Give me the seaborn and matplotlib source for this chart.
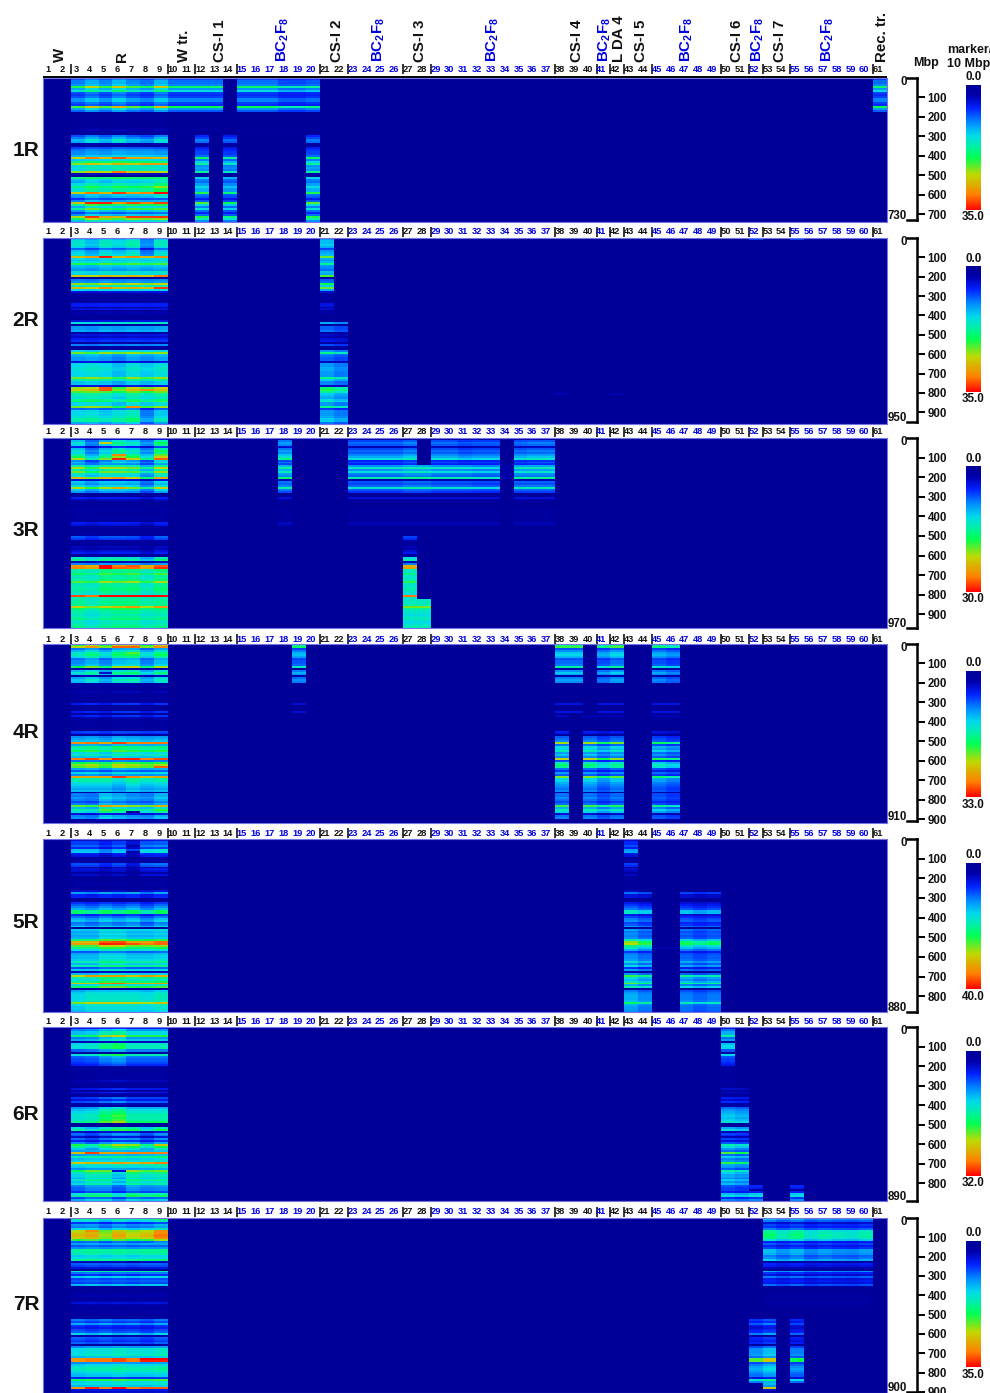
import numpy as np
import pandas as pd
import seaborn as sns
import matplotlib
matplotlib.use("Agg")
import matplotlib.pyplot as plt
from matplotlib.colors import LinearSegmentedColormap

sns.set_theme(style="white")
plt.rcParams['font.family'] = ['Liberation Sans', 'DejaVu Sans']
plt.rcParams['font.weight'] = 'bold'
plt.rcParams['mathtext.fontset'] = 'custom'
plt.rcParams['mathtext.bf'] = 'Liberation Sans:bold'
plt.rcParams['mathtext.rm'] = 'Liberation Sans:bold'

# ---------- data: markers per 10 Mbp bin ----------
PANELS = ["1R", "2R", "3R", "4R", "5R", "6R", "7R"]
SIZES = [730, 950, 970, 910, 880, 890, 900]
VMAX = [35.0, 35.0, 30.0, 33.0, 40.0, 32.0, 35.0]

PROFILE_1R = [9, 11, 11, 12, 23, 13, 17, 9, 8, 9,
              12, 12, 9, 8, 24, 13, 10, 1, .5, .5,
              .5, .5, .5, .5, .5, .8, 3, 1, .5, 9,
              11, 14, 13, 3, 1, 8, 10, 11, 11, 13,
              27, 14, 19, 25, 15, 16, 15, 25, 4, 1,
              19, 14, 13, 16, 16, 20, 17, 17, 29, 13,
              12, 8, 12, 31, 20, 14, 21, 13, 9, 13,
              29, 23, 15]
PROFILE_2R = [13, 15, 15, 16, 14, 9, 13, 14, 15, 27,
              14, 13, 15, 21, 13, 12, 11, 15, 14, 26,
              1, 10, 11, 24, 16, 27, 14, 5, 1.5, 1,
              1, 1.5, 1, 6, 6, 1, 5, 1.5, 3, 1,
              .5, .5, 5, 15, 1, 11, 11, 12, 2, 5,
              4, 6, 7, 2, 10, 1, 2, 14, 23, 13,
              12, 11, 11, 5, 14, 14, 15, 15, 14, 14,
              14, 23, 17, 13, 13, 5, 24, 26, 22, 17,
              16, 15, 18, 20, 14, 14, 23, 9, 14, 14,
              14, 15, 17, 17, 12]
PROFILE_3R = [3, 11, 13, 12, 5, 11, 13, 12, 15, 17,
              21, 9, 11, 9, 14, 20, 14, 19, 13, 12,
              22, 4, 11, 10, 12, 20, 11, 9, 1, .8,
              5, 3, .5, .5, .5, .8, 1, 2, .8, .8,
              1.5, 1.5, .8, 5, 4, .5, .5, .5, .8, .8,
              7, 6, 1, 1, .8, 3, 2.5, 4, 5, 1,
              .5, 13, 15, 3, 9, 25, 26, 15, 14, 17,
              14, 14, 15, 19, 14, 14, 15, 15, 14, 13,
              28, 14, 14, 15, 14, 15, 21, 16, 14, 14,
              13, 14, 15, 13, 13, 14, 15]
PROFILE_4R = [22, 26, 10, 13, 16, 17, 15, 10, 11, 11,
              12, 21, 2, 13, 16, 14, 3, 12, 14, 13,
              1.5, 1.5, .8, .8, 3, 1, .8, .8, .8, 1,
              6, .8, .5, .8, 6, 1, 6, 3, 1, .8,
              1, 1.5, .8, .8, 7, 6, 1, 10, 11, 12,
              28, 11, 17, 16, 19, 13, 15, 12, 29, 9,
              19, 22, 21, 11, 8, 13, 10, 27, 16, 16,
              14, 13, 12, 11, 12, .8, 11, 11, 12, 11,
              9, 11, 25, 14, 19, 16, 5, 11, 12, 3,
              .5]
PROFILE_5R = [5, 9, 9, 11, 8, 15, 16, 7, 6, 2,
              2, 2, 10, 9, 1, 6, 5, 2, 5, .8,
              .8, .8, 2, 2, 1, .8, 5, 13, 7, 7,
              .8, .5, 8, 10, 12, 14, 22, 22, 8, 11,
              14, 15, 11, 12, 16, 1, 16, 14, 15, 14,
              15, 23, 33, 35, 26, 22, 17, 10, 14, 15,
              15, 16, 20, 15, 20, 10, 16, 4, 15, 30,
              20, 18, 22, 32, 17, 24, 1, 14, 16, 17,
              17, 17, 18, 28, 17, 16, 16, 15]
PROFILE_6R = [5, 10, 13, 13, 19, 10, 12, 3, 14, 15,
              15, 9, 9, 1, 15, 9, 8, 8, 7, 6,
              .8, .8, 1, .8, .8, .8, 1.5, 3, 1, .8,
              1, 5, 1, 5, 2, 1, 7, 5, 8, 3,
              1, 11, 13, 14, 15, 16, 15, 16, 18, 1,
              .5, 14, 17, 4, 9, 8, 4, 9, 6, 10,
              20, 17, 13, 11, 26, 11, 16, 12, 13, 25,
              14, 13, 10, 20, 16, 14, 14, 12, 16, 13,
              15, 10, 9, 9, 7, 15, 17, 8, 12]
PROFILE_7R = [18, 14, 7, 11, 10, 14, 25, 26, 27, 27,
              26, 21, 9, 12, 9, 11, 18, 18, 17, 14,
              15, 19, 4, 9, 8, 5, 1, 17, 10, 7,
              14, 8, 9, 8, 13, 1, .8, .8, 1, 3,
              2.5, 1.5, 2, 5, 3, 1, 1, 1, 2, 1,
              .8, .8, 10, 8, 12, 7, 6, 8, 9, 14,
              2, 9, 8, 7, 9, 2, 11, 15, 15, 15,
              16, 13, 31, 31, 11, 14, 16, 17, 16, 14,
              13, 13, 7, 21, 14, 15, 13, 31, 5, 4]
PROFILES = [PROFILE_1R, PROFILE_2R, PROFILE_3R, PROFILE_4R, PROFILE_5R, PROFILE_6R, PROFILE_7R]

# relative signal of lines 3-9 (rye), by stretch of bins: first bin, last bin, seven factors
R_BLOCKS_1R = [(0, 34, [.9, 1.1, .92, 1.15, .95, .85, 1.12]), (35, 50, [.95, 1.05, 1, 1.1, 1.05, 1.05, 1.0]),
               (51, 60, [.9, 1.05, .95, 1.05, 1.0, 1.05, 1.2]), (61, 72, [.85, 1.1, 1, .95, 1.05, 1, 1.05])]
R_BLOCKS_2R = [(0, 8, [1.0, .85, 1.05, .95, 1.1, .7, 1.05]), (9, 58, [1, .95, 1.05, 1, 1.05, 1, 1.05]),
               (59, 86, [1, 1.05, 1, .9, 1.05, .95, 1.05]), (87, 94, [1.0, 1.05, .95, 1.05, 1.15, .7, .95])]
R_BLOCKS_3R = [(0, 12, [1, .7, .95, 1.2, 1.05, .75, 1.3]), (13, 63, [1.05, .9, 1.05, 1.05, 1, .75, 1.1]),
               (64, 80, [1, .95, 1.1, 1.05, 1.1, .95, 1.1]), (81, 96, [1.05, .95, 1.05, 1.1, 1.1, 1, 1.05])]
R_BLOCKS_4R = [(0, 43, [.9, 1.05, .85, 1.1, 1.15, .85, 1.1]), (44, 66, [1, 1.05, .95, 1.1, 1.05, 1, 1.05]),
               (67, 75, [1, 1, 1, .9, 1.05, .95, 1]), (76, 90, [.85, .8, 1.1, 1, .9, .85, 1.05])]
R_BLOCKS_5R = [(0, 26, [.95, .95, .75, .95, .6, 1.05, 1.1]), (27, 45, [1, .9, 1.05, .95, 1.05, .85, 1.05]),
               (46, 76, [.95, .95, 1.1, 1.1, 1, 1, 1.05]), (77, 87, [.95, 1.05, 1.05, 1.05, 1.05, 1, 1.1])]
R_BLOCKS_6R = [(0, 50, [.9, .95, 1.15, 1.25, 1, 1, 1]), (51, 62, [.95, .8, 1, 1.15, 1.1, .85, 1.1]),
               (63, 72, [.95, 1, 1, 1.05, 1, 1.05, 1.1]), (73, 88, [.9, 1.05, 1.05, .85, 1.1, 1, 1.05])]
R_BLOCKS_7R = [(0, 12, [1, 1.05, .9, 1.05, .95, 1, 1.15]), (13, 51, [.95, 1, .95, 1, .95, 1, 1]),
               (52, 65, [1, .9, 1, .9, .95, .85, 1]), (66, 89, [.95, 1, 1, 1.05, 1, 1, 1.05])]
R_BLOCKS = [R_BLOCKS_1R, R_BLOCKS_2R, R_BLOCKS_3R, R_BLOCKS_4R, R_BLOCKS_5R, R_BLOCKS_6R, R_BLOCKS_7R]

# alien segments: first line, last line, first bin, last bin, relative signal
SEGMENTS_1R = [(10, 13, 0, 16, .85), (15, 17, 0, 16, .85), (18, 19, 0, 16, .72), (20, 20, 0, 16, .78),
               (10, 13, 26, 26, .4), (15, 20, 26, 26, .4),
               (12, 12, 29, 72, .72), (14, 14, 29, 72, .65), (20, 20, 29, 72, .72),
               (61, 61, 0, 16, .85), (61, 61, 26, 26, .5), (44, 46, 0, 0, .08)]
SEGMENTS_2R = [(21, 21, 0, 38, .85), (21, 21, 43, 94, .8), (22, 22, 43, 94, .7),
               (52, 52, 0, 0, .6), (55, 55, 0, 0, .6), (38, 38, 79, 79, .2), (42, 42, 79, 79, .2)]
SEGMENTS_3R = [(18, 18, 1, 27, .75), (18, 18, 30, 31, .8), (18, 18, 37, 44, .7),
               (23, 26, 0, 13, .6), (27, 27, 0, 13, .68), (29, 30, 0, 13, .62), (31, 31, 0, 13, .55),
               (32, 33, 0, 13, .58), (35, 35, 0, 13, .62), (36, 37, 0, 13, .66),
               (23, 26, 14, 27, .66), (27, 28, 14, 27, .72), (29, 31, 14, 27, .66), (32, 33, 14, 27, .62),
               (35, 37, 14, 27, .7), (34, 34, 13, 20, .12),
               (23, 33, 30, 31, .8), (35, 37, 30, 31, .8), (23, 33, 37, 44, .6), (35, 37, 37, 44, .6),
               (27, 27, 50, 96, .95), (28, 28, 82, 96, .95)]
SEGMENTS_4R = [(19, 19, 0, 19, .72), (19, 19, 30, 30, .7), (19, 19, 34, 34, .7),
               (38, 39, 0, 19, .78), (41, 41, 0, 19, .68), (42, 42, 0, 19, .8), (45, 45, 0, 19, .7),
               (46, 46, 0, 19, .62),
               (38, 39, 30, 30, .8), (41, 42, 30, 30, .8), (45, 46, 30, 30, .8),
               (38, 39, 34, 34, .8), (41, 42, 34, 34, .8), (45, 46, 34, 34, .8),
               (38, 38, 36, 37, .6), (40, 42, 36, 37, .5), (45, 46, 36, 37, .5),
               (38, 38, 44, 89, .82), (40, 40, 44, 89, .82), (41, 41, 44, 89, .66), (42, 42, 44, 89, .78),
               (45, 45, 44, 89, .68), (46, 46, 44, 89, .6)]
SEGMENTS_5R = [(43, 43, 0, 26, .85), (43, 43, 27, 87, .82), (44, 44, 27, 87, .7), (47, 47, 27, 87, .68),
               (48, 48, 27, 87, .6), (49, 49, 27, 87, .66), (45, 46, 55, 55, .15)]
SEGMENTS_6R = [(50, 50, 0, 30, .85), (50, 50, 31, 88, .78), (51, 51, 31, 88, .72),
               (52, 52, 81, 82, .6), (52, 52, 84, 88, .8), (55, 55, 81, 82, .6), (55, 55, 84, 88, .8)]
SEGMENTS_7R = [(53, 53, 0, 35, .72), (54, 54, 0, 35, .62), (55, 55, 0, 35, .7), (56, 56, 0, 35, .58),
               (57, 57, 0, 35, .64), (58, 58, 0, 35, .6), (59, 59, 0, 35, .58), (60, 60, 0, 35, .64),
               (53, 60, 39, 44, .5),
               (52, 52, 51, 84, .72), (53, 53, 51, 88, .85), (55, 55, 51, 84, .66)]
SEGMENTS = [SEGMENTS_1R, SEGMENTS_2R, SEGMENTS_3R, SEGMENTS_4R, SEGMENTS_5R, SEGMENTS_6R, SEGMENTS_7R]

# single stronger / weaker stretches: bin, first line, last line, value
SPOTS_1R = [(40, 4, 4, 31), (40, 6, 6, 32), (43, 8, 9, 29), (47, 6, 6, 31), (63, 4, 5, 34), (63, 9, 9, 33),
            (70, 4, 4, 33), (70, 7, 9, 33), (58, 4, 4, 31), (58, 6, 6, 33), (4, 6, 6, 26), (4, 9, 9, 26)]
SPOTS_2R = [(9, 5, 5, 34), (9, 4, 4, 29), (9, 7, 7, 30), (9, 9, 9, 30), (25, 9, 9, 33), (25, 5, 5, 30),
            (77, 5, 5, 32), (76, 5, 5, 32), (77, 8, 8, 30), (19, 9, 9, 31), (86, 7, 7, 30), (5, 8, 8, 5)]
SPOTS_3R = [(10, 6, 6, 29), (8, 6, 6, 26), (2, 5, 5, 22), (80, 5, 6, 30), (80, 8, 8, 30), (65, 5, 5, 30),
            (66, 5, 5, 30), (66, 7, 7, 27), (86, 7, 7, 25), (86, 9, 9, 25), (20, 6, 6, 25), (25, 6, 6, 24)]
SPOTS_4R = [(1, 6, 6, 30), (50, 6, 6, 31), (58, 4, 4, 31), (58, 7, 7, 32), (62, 9, 9, 30), (67, 6, 6, 31),
            (50, 7, 8, 29), (82, 5, 5, 27), (85, 7, 7, 2), (14, 5, 5, 4), (4, 7, 7, 21)]
SPOTS_5R = [(53, 5, 5, 39), (52, 6, 6, 37), (53, 7, 7, 37), (52, 9, 9, 36), (53, 9, 9, 36), (73, 6, 6, 36),
            (69, 4, 4, 33), (69, 8, 8, 33), (6, 7, 7, 3), (3, 7, 7, 3)]
SPOTS_6R = [(64, 4, 4, 30), (64, 7, 9, 28), (69, 9, 9, 28), (73, 6, 6, 4), (4, 6, 6, 23), (60, 9, 9, 24)]
SPOTS_7R = [(72, 8, 9, 35), (73, 8, 9, 34), (87, 4, 4, 34), (87, 6, 6, 35), (87, 8, 9, 32),
            (6, 4, 4, 30), (6, 9, 9, 30), (22, 7, 7, 2)]
SPOTS = [SPOTS_1R, SPOTS_2R, SPOTS_3R, SPOTS_4R, SPOTS_5R, SPOTS_6R, SPOTS_7R]

LINE_NUMBERS = list(range(1, 62))
BLUE_LINES = [15, 16, 17, 18, 19, 20, 23, 24, 25, 26, 29, 30, 31, 32, 33, 34, 35, 36, 37, 41,
              45, 46, 47, 48, 49, 52, 55, 56, 57, 58, 59, 60]
SEPARATORS = [3, 10, 12, 15, 21, 23, 27, 29, 38, 41, 42, 43, 45, 50, 52, 53, 55, 61]
BC = r'$\mathbf{BC_2F_8}$'
GROUP_NAMES = ["W", "R", "W tr.", "CS-I 1", BC, "CS-I 2", BC, "CS-I 3", BC, "CS-I 4", BC, "L DA 4",
               "CS-I 5", BC, "CS-I 6", BC, "CS-I 7", BC, "Rec. tr."]

# ---------- layout (pixels) ----------
W, H = 990, 1393
X0, X1 = 43.3, 887.0
PANEL_Y = [(78, 222), (238, 424), (438, 628), (644, 823), (839, 1012), (1027, 1201), (1218, 1393)]
SCALE_BOTTOM = [220, 422, 628, 821, 1012, 1201, 1392]
LABEL_Y = [69, 232, 432, 639, 833, 1021, 1212]
CBAR_Y = [(85, 210), (266, 392), (466, 592), (671, 797), (863, 989), (1051, 1176), (1241, 1367)]
NAME_Y = [150, 321, 531, 733, 922, 1114, 1304]
GROUP_X = [60, 122, 184, 220, 283, 337, 379, 420, 493, 577, 605, 619, 641, 687, 737, 758, 780, 828, 882]

def rect(x0, y0, x1, y1):
    return [x0 / W, 1 - y1 / H, (x1 - x0) / W, (y1 - y0) / H]

cmap = LinearSegmentedColormap.from_list("markers", [
    (0.00, (0, 0, .60)), (0.08, (0, 0, .66)), (0.18, (0, .12, 1)), (0.30, (0, .55, 1)),
    (0.40, (0, .85, .92)), (0.50, (0, .95, .62)), (0.58, (0, 1, .32)), (0.72, (.75, .85, 0)),
    (0.88, (1, .5, 0)), (1.00, (1, 0, 0))])

fig = plt.figure(figsize=(W / 100, H / 100), dpi=100, facecolor="white")
page = fig.add_axes([0, 0, 1, 1], zorder=5)
page.set_xlim(0, W)
page.set_ylim(H, 0)
page.axis("off")

for i, name in enumerate(PANELS):
    profile = PROFILES[i]
    grid = np.zeros((len(profile), 61))
    for r0, r1, factors in R_BLOCKS[i]:
        grid[r0:r1 + 1, 2:9] = np.outer(profile[r0:r1 + 1], factors)
    for first, last, r0, r1, k in SEGMENTS[i]:
        grid[r0:r1 + 1, first - 1:last] = np.outer(profile[r0:r1 + 1], [k] * (last - first + 1))
    for row, first, last, value in SPOTS[i]:
        grid[row, first - 1:last] = value
    df = pd.DataFrame(grid, columns=LINE_NUMBERS)

    top, bot = PANEL_Y[i]
    ax = fig.add_axes(rect(X0, top, X1, bot))
    c0, c1 = CBAR_Y[i]
    cax = fig.add_axes(rect(966, c0, 981, c1))
    sns.heatmap(df, ax=ax, cmap=cmap, vmin=0, vmax=VMAX[i], cbar_ax=cax,
                xticklabels=False, yticklabels=False, cbar_kws={"ticks": []})
    ax.set_xlabel("")
    ax.set_ylabel("")
    for s in ax.spines.values():
        s.set_visible(True)
        s.set_color("#7474e6")
        s.set_linewidth(0.8)
    cax.invert_yaxis()
    ax.collections[0].colorbar.outline.set_visible(False)
    cax.tick_params(length=0)

    # Mbp scale
    size = SIZES[i]
    sb = SCALE_BOTTOM[i]
    sc = fig.add_axes(rect(907, top, 916.5, sb))
    sc.set_facecolor("none")
    sc.set_ylim(size, 0)
    sc.set_xticks([])
    sc.yaxis.tick_right()
    ticks = list(range(100, size + 1, 100))
    sc.set_yticks(ticks)
    sc.set_yticklabels([str(t) for t in ticks], fontsize=8.3, fontweight="bold", color="#111111")
    sc.tick_params(axis="y", length=6, width=1.4, pad=2, color="black", right=True, left=False)
    sc.spines["left"].set_visible(False)
    for side in ["right", "top", "bottom"]:
        sc.spines[side].set_visible(True)
        sc.spines[side].set_color("black")
        sc.spines[side].set_linewidth(1.8)
    page.text(907, top + 4, "0", fontsize=8.3, ha="right", va="center", color="#111111")
    page.text(907, sb - 4, str(size), fontsize=8.3, ha="right", va="center", color="#111111")

    # colour bar end labels
    page.text(973.5, c0 - 1.5, f"{0:.1f}", fontsize=8.4, ha="center", va="bottom", color="#111111")
    page.text(973.5, c1 + 1.5, f"{VMAX[i]:.1f}", fontsize=8.4, ha="center", va="top", color="#111111")

    # line numbers and separators
    step = (X1 - X0) / 61
    ly = LABEL_Y[i]
    for n in LINE_NUMBERS:
        page.text(X0 + (n - .5) * step - 2, ly, str(n), fontsize=6.7, ha="center", va="center",
                  color="#0000e0" if n in BLUE_LINES else "#111111")
    for n in SEPARATORS:
        xs = X0 + (n - 1) * step
        page.plot([xs, xs], [ly - 5.5, ly + 5], color="black", lw=1.1, solid_capstyle="butt")
    page.text(26, NAME_Y[i], name, fontsize=15, ha="center", va="center", color="#111111")

page.plot([X0, X1], [77, 77], color="black", lw=1.4, solid_capstyle="butt")
for x, label in zip(GROUP_X, GROUP_NAMES):
    page.text(x, 62, label, rotation=90, fontsize=10.8, ha="center", va="bottom",
              color="#0000e0" if label == BC else "#111111")
page.text(926, 63, "Mbp", fontsize=9, ha="center", va="center", color="#111111")
page.text(947, 50, "marker/", fontsize=9, ha="left", va="center", color="#111111")
page.text(947, 64, "10 Mbp", fontsize=9, ha="left", va="center", color="#111111")

fig.savefig("out.png", dpi=100)
